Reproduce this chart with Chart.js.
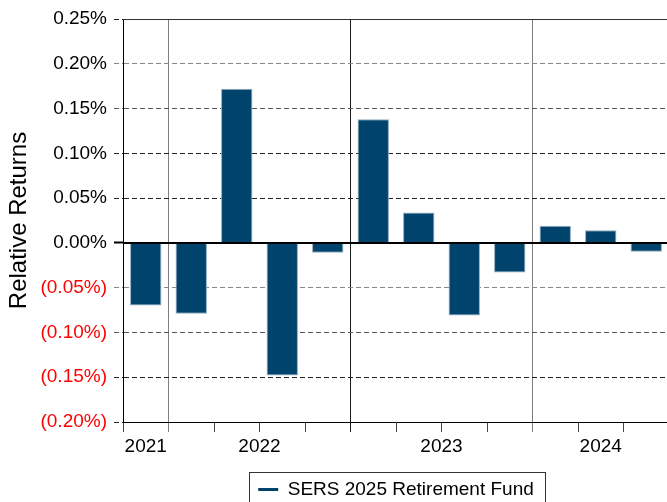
<!DOCTYPE html>
<html>
<head>
<meta charset="utf-8">
<title>SERS 2025 Retirement Fund – Relative Returns</title>
<script src="https://cdn.jsdelivr.net/npm/chart.js@4/dist/chart.umd.min.js"></script>
<style>
  html, body { margin: 0; padding: 0; background: #ffffff; overflow: hidden; }
  #wrap { width: 667px; height: 502px; overflow: hidden; }
  canvas { display: block; }
</style>
</head>
<body>
<div id="wrap"><canvas id="chart" width="672" height="509"></canvas></div>
<script>
// Quarterly relative returns of the fund against its benchmark, in percent
const quarters = ['Q4 2021', 'Q1 2022', 'Q2 2022', 'Q3 2022', 'Q4 2022',
                  'Q1 2023', 'Q2 2023', 'Q3 2023', 'Q4 2023',
                  'Q1 2024', 'Q2 2024', 'Q3 2024'];
const relativeReturns = [-0.070, -0.079, 0.172, -0.148, -0.011,
                         0.138, 0.034, -0.081, -0.033,
                         0.019, 0.014, -0.010];
const seriesName = 'SERS 2025 Retirement Fund';
const yMin = -0.20;
const yMax = 0.25;
const yStep = 0.05;

const FONT = 'Liberation Sans, Arial, Helvetica, sans-serif';
const BAR_BLUE = '#00446E';
const DASH = [5, 3];

// Group the quarters by year: one label centred under each year,
// a separator line between consecutive years.
const years = quarters.map(q => q.split(' ')[1]);
const groups = [];
years.forEach((yr, i) => {
  const g = groups[groups.length - 1];
  if (g && g.year === yr) g.last = i; else groups.push({ year: yr, first: i, last: i });
});
const yearAt = new Map(groups.map(g => [(g.first + g.last) / 2, g.year]));
const yearBreaks = groups.slice(1).map(g => g.first - 0.5);
const quarterEdges = quarters.map((_, i) => i - 0.5).concat(quarters.length - 0.5);
const xTickValues = Array.from(new Set(quarterEdges.concat([...yearAt.keys()]))).sort((a, b) => a - b);
const breakColors = ['#7f7f7f', '#1a1a1a', '#7f7f7f'];

const near = (a, b) => Math.abs(a - b) < 1e-9;
const fmtPct = v => {
  const s = Math.abs(v).toFixed(2) + '%';
  return v < -1e-9 ? '(' + s + ')' : s;
};
const dashShade = v => {
  const r = Math.round(v * 100);
  if (r === 20 || r === -5) return '#888888';
  if (r === 15 || r === -10) return '#555555';
  return '#222222';
};

function align(px, w) {
  return Math.round(px - w / 2) + w / 2;
}

// Solid frame line at the top and the heavier zero line
const referenceLines = {
  id: 'referenceLines',
  beforeDatasetsDraw(chart) {
    const { ctx, chartArea: a } = chart;
    const y = align(chart.scales.y.getPixelForValue(yMax), 1);
    ctx.save();
    ctx.strokeStyle = '#333333';
    ctx.lineWidth = 1;
    ctx.beginPath();
    ctx.moveTo(a.left, y);
    ctx.lineTo(a.right, y);
    ctx.stroke();
    ctx.restore();
  },
  afterDatasetsDraw(chart) {
    const { ctx, chartArea: a } = chart;
    const y = align(chart.scales.y.getPixelForValue(0), 2);
    ctx.save();
    ctx.strokeStyle = '#000000';
    ctx.lineWidth = 2;
    ctx.beginPath();
    ctx.moveTo(a.left, y);
    ctx.lineTo(a.right, y);
    ctx.stroke();
    ctx.restore();
  }
};

// Outline box around the legend entry
const legendFrame = {
  id: 'legendFrame',
  afterDraw(chart) {
    const lg = chart.legend;
    if (!lg || !lg.legendHitBoxes || !lg.legendHitBoxes.length) return;
    const hb = lg.legendHitBoxes[0];
    const { ctx } = chart;
    const left = Math.round(hb.left - 9) + 0.5;
    const right = Math.round(hb.left + hb.width + 11) + 0.5;
    const top = Math.round(hb.top - 8) + 0.5;
    const bottom = top + 60;
    ctx.save();
    ctx.strokeStyle = '#333333';
    ctx.lineWidth = 1;
    ctx.strokeRect(left, top, right - left, bottom - top);
    ctx.restore();
  }
};

new Chart(document.getElementById('chart'), {
  type: 'bar',
  data: {
    datasets: [{
      label: seriesName,
      data: relativeReturns.map((v, i) => ({ x: i, y: v })),
      backgroundColor: BAR_BLUE,
      borderColor: '#8fabc0',
      borderWidth: 1,
      // the x axis carries ticks every half quarter, so the bar ruler's
      // unit is half a slot: 1.38 of that is 69% of a quarter's width
      barPercentage: 1.38,
      categoryPercentage: 1.0
    }]
  },
  options: {
    responsive: false,
    animation: false,
    devicePixelRatio: 1,
    layout: { padding: { left: 0, right: 1, top: 19, bottom: 0 } },
    plugins: {
      tooltip: { enabled: false },
      legend: {
        position: 'bottom',
        fullSize: false,
        labels: {
          usePointStyle: true,
          pointStyleWidth: 20,
          padding: 10,
          color: '#000000',
          font: { family: FONT, size: 19 },
          generateLabels: () => [{
            text: seriesName,
            fillStyle: BAR_BLUE,
            strokeStyle: BAR_BLUE,
            lineWidth: 3,
            pointStyle: 'line',
            hidden: false,
            datasetIndex: 0,
            fontColor: '#000000'
          }]
        }
      }
    },
    scales: {
      x: {
        type: 'linear',
        min: -0.5,
        max: quarters.length - 0.5,
        offset: false,
        grid: {
          offset: false,
          drawOnChartArea: true,
          tickLength: 10,
          lineWidth: 1,
          color: c => {
            if (!c.tick) return 'rgba(0,0,0,0)';
            const k = yearBreaks.findIndex(b => near(b, c.tick.value));
            return k >= 0 ? breakColors[k % breakColors.length] : 'rgba(0,0,0,0)';
          },
          tickColor: c => {
            if (!c.tick) return '#444444';
            if (yearAt.has(c.tick.value)) {
              return quarterEdges.some(e => near(e, c.tick.value)) ? '#444444' : 'rgba(0,0,0,0)';
            }
            const k = yearBreaks.findIndex(b => near(b, c.tick.value));
            return k >= 0 ? breakColors[k % breakColors.length] : '#444444';
          }
        },
        border: { display: true, color: '#000000', width: 1 },
        ticks: {
          autoSkip: false,
          maxRotation: 0,
          minRotation: 0,
          padding: 3,
          color: '#000000',
          font: { family: FONT, size: 19 },
          callback: v => yearAt.get(v) || ''
        },
        afterBuildTicks: s => { s.ticks = xTickValues.map(v => ({ value: v })); },
        afterFit: s => { s.height = 48; }
      },
      y: {
        min: yMin,
        max: yMax,
        ticks: {
          stepSize: yStep,
          padding: 7,
          font: { family: FONT, size: 19 },
          color: c => (c.tick && c.tick.value < -1e-9 ? '#FF0000' : '#000000'),
          callback: v => fmtPct(v)
        },
        grid: {
          tickLength: 9,
          color: c => {
            if (!c.tick) return '#222222';
            const v = c.tick.value;
            if (near(v, 0) || near(v, yMax) || near(v, yMin)) return 'rgba(0,0,0,0)';
            return dashShade(v);
          },
          tickColor: c => (c.tick && near(c.tick.value, 0) ? '#000000' : (c.tick ? dashShade(c.tick.value) : '#222222')),
          tickWidth: c => (c.tick && near(c.tick.value, 0) ? 2 : 1),
          tickBorderDash: c => (c.tick && near(c.tick.value, 0) ? [] : DASH)
        },
        border: { display: true, color: '#000000', width: 1, dash: DASH },
        title: {
          display: true,
          text: 'Relative Returns',
          color: '#000000',
          font: { family: FONT, size: 24 },
          padding: { top: 5, bottom: 4 }
        },
        afterFit: s => { s.width = 123; }
      }
    }
  },
  plugins: [referenceLines, legendFrame]
});
</script>
</body>
</html>
